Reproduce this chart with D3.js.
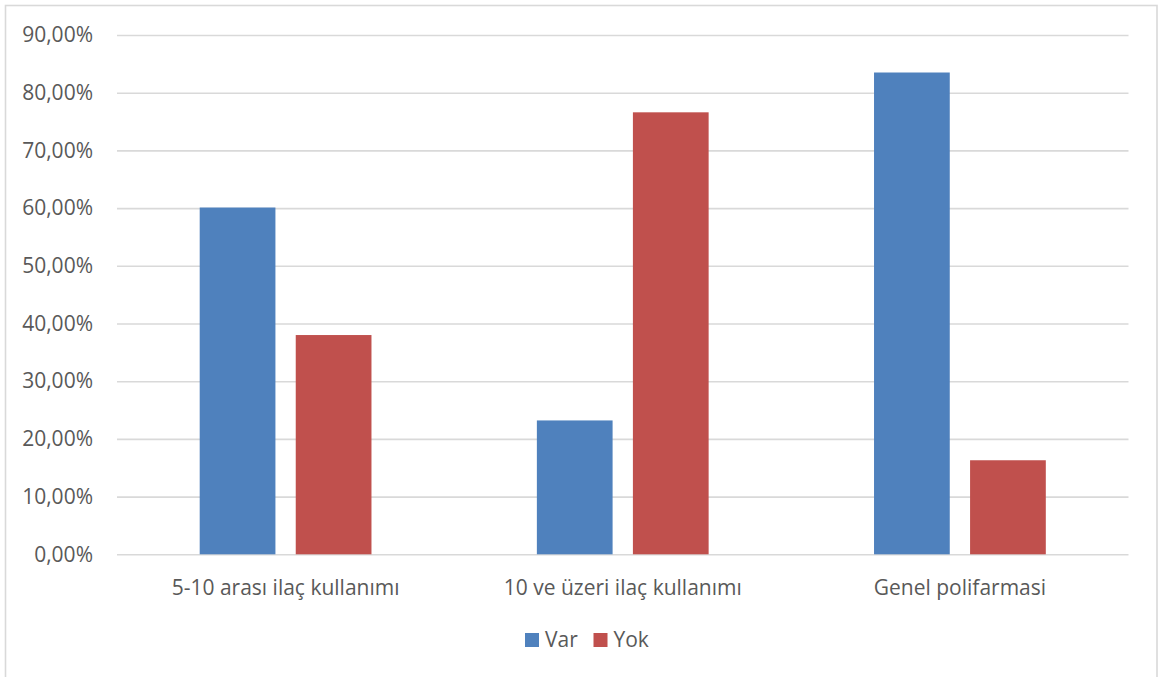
<!DOCTYPE html>
<html>
<head>
<meta charset="utf-8">
<script src="https://cdn.jsdelivr.net/npm/d3@7"></script>
<style>
  html, body { margin: 0; padding: 0; background: #ffffff; }
  svg { display: block; }
  text { font-family: "Open Sans", "Noto Sans", sans-serif; fill: #595959; }
</style>
</head>
<body>
<svg id="chart" width="1159" height="677"></svg>
<script>
// Polifarmasi durumu: kategori bazında "Var" / "Yok" oranları (%)
const categories = ["5-10 arası ilaç kullanımı", "10 ve üzeri ilaç kullanımı", "Genel polifarmasi"];
const seriesNames = ["Var", "Yok"];
const varValues = [60.1, 23.2, 83.5];
const yokValues = [38.0, 76.6, 16.3];
const yTicks = [0, 10, 20, 30, 40, 50, 60, 70, 80, 90];
const colors = ["#4f81bd", "#c0504d"];

const rows = categories.map((c, i) => ({ category: c, values: [varValues[i], yokValues[i]] }));

const svg = d3.select("#chart");
const fontSize = "21px";

// Chart area outline
svg.append("rect")
  .attr("x", 5.5).attr("y", 5.5)
  .attr("width", 1151.5).attr("height", 680)
  .attr("fill", "#ffffff")
  .attr("stroke", "#d9d9d9")
  .attr("stroke-width", 1.6);

const plot = { left: 117, right: 1128.5, top: 35, bottom: 554.3 };

const x0 = d3.scaleBand()
  .domain(categories)
  .range([plot.left, plot.right])
  .paddingInner(0).paddingOuter(0);

const x1 = d3.scaleBand()
  .domain(seriesNames)
  .range([0, x0.bandwidth()])
  .paddingInner(0.2115)
  .paddingOuter(0.861);

const y = d3.scaleLinear()
  .domain([0, 90])
  .range([plot.bottom, plot.top]);

const fmt = v => d3.format(".2f")(v).replace(".", ",") + "%";

// Horizontal gridlines
svg.append("g")
  .attr("transform", `translate(${plot.left},0)`)
  .call(d3.axisLeft(y).tickValues(yTicks).tickSize(-(plot.right - plot.left)).tickFormat(""))
  .call(g => g.select(".domain").remove())
  .call(g => g.selectAll("line").attr("stroke", "#d9d9d9").attr("stroke-width", 1.6));

// Y axis labels
svg.append("g")
  .attr("transform", `translate(${plot.left},0)`)
  .call(d3.axisLeft(y).tickValues(yTicks).tickSize(0).tickPadding(24).tickFormat(fmt))
  .call(g => g.select(".domain").remove())
  .call(g => g.selectAll("text")
    .attr("font-size", fontSize)
    .attr("font-family", "\"Open Sans\", \"Noto Sans\", sans-serif")
    .attr("fill", "#595959"));

// Bars
const groups = svg.append("g").selectAll("g")
  .data(rows)
  .join("g")
  .attr("transform", d => `translate(${x0(d.category)},0)`);

groups.selectAll("rect")
  .data(d => d.values.map((v, i) => ({ key: seriesNames[i], value: v, i })))
  .join("rect")
  .attr("x", d => x1(d.key))
  .attr("y", d => y(d.value))
  .attr("width", x1.bandwidth())
  .attr("height", d => y(0) - y(d.value))
  .attr("fill", d => colors[d.i]);

// Category axis
svg.append("g")
  .attr("transform", `translate(0,${plot.bottom})`)
  .call(d3.axisBottom(x0).tickSize(0).tickPadding(25.5))
  .call(g => g.select(".domain").remove())
  .call(g => g.selectAll("text")
    .attr("font-size", fontSize)
    .attr("font-family", "\"Open Sans\", \"Noto Sans\", sans-serif")
    .attr("fill", "#595959"));

// Legend
const legend = svg.append("g").attr("transform", "translate(525,633)");
const legendItems = [
  { name: seriesNames[0], color: colors[0], dx: 0 },
  { name: seriesNames[1], color: colors[1], dx: 68.5 }
];
const li = legend.selectAll("g").data(legendItems).join("g")
  .attr("transform", d => `translate(${d.dx},0)`);
li.append("rect").attr("width", 14).attr("height", 14).attr("fill", d => d.color);
li.append("text")
  .attr("x", 20).attr("y", 14)
  .attr("font-size", fontSize)
  .text(d => d.name);
</script>
</body>
</html>
